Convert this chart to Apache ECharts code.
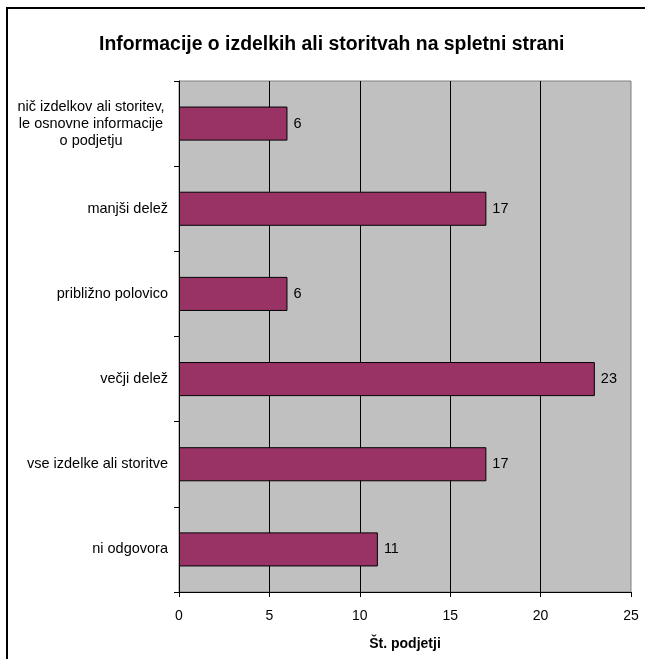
<!DOCTYPE html>
<html>
<head>
<meta charset="utf-8">
<script src="https://cdn.jsdelivr.net/npm/echarts@6/dist/echarts.min.js"></script>
<style>
  html, body { margin: 0; padding: 0; background: #fff; }
  #chart { width: 645px; height: 659px; }
</style>
</head>
<body>
<div id="chart"></div>
<script>
// Response categories (top to bottom)
const categories = [
  'nič izdelkov ali storitev,\nle osnovne informacije\no podjetju',
  'manjši delež',
  'približno polovico',
  'večji delež',
  'vse izdelke ali storitve',
  'ni odgovora'
];
// Number of companies per category
const counts = [6, 17, 6, 23, 17, 11];
// Value axis ticks
const xTicks = [0, 5, 10, 15, 20, 25];

const FONT = '"Liberation Sans", Arial, sans-serif';

const chart = echarts.init(document.getElementById('chart'), null, { renderer: 'canvas' });

chart.setOption({
  animation: false,
  backgroundColor: '#ffffff',
  title: {
    text: 'Informacije o izdelkih ali storitvah na spletni strani',
    left: 94,
    top: 30,
    textStyle: { fontFamily: FONT, fontSize: 19.4, fontWeight: 'bold', color: '#000' }
  },
  graphic: [{
    type: 'rect',
    shape: { x: 7, y: 8, width: 800, height: 800 },
    style: { fill: 'none', stroke: '#000', lineWidth: 2 },
    silent: true,
    z: 100
  }],
  grid: {
    left: 179,
    right: 14,
    top: 81,
    bottom: 67,
    show: true,
    backgroundColor: '#C0C0C0',
    borderColor: '#808080',
    borderWidth: 1
  },
  xAxis: {
    type: 'value',
    min: xTicks[0],
    max: xTicks[xTicks.length - 1],
    interval: 5,
    name: 'Št. podjetji',
    nameLocation: 'middle',
    nameGap: 45,
    nameTextStyle: { fontFamily: FONT, fontSize: 14, fontWeight: 'bold', color: '#000' },
    axisLine: { show: true, lineStyle: { color: '#000', width: 1 } },
    axisTick: { show: true, length: 5, lineStyle: { color: '#000' } },
    axisLabel: { fontFamily: FONT, fontSize: 14, color: '#000', margin: 17 },
    splitLine: { show: true, showMinLine: false, showMaxLine: false, lineStyle: { color: '#000', width: 1 } }
  },
  yAxis: {
    type: 'category',
    data: categories,
    inverse: true,
    axisLine: { show: true, lineStyle: { color: '#000', width: 1 } },
    axisTick: { show: true, length: 5, inside: false, lineStyle: { color: '#000' } },
    axisLabel: {
      fontFamily: FONT,
      fontSize: 14.5,
      color: '#000',
      margin: 11,
      align: 'right',
      lineHeight: 17,
      formatter: function (v) {
        if (v.indexOf('\n') >= 0) {
          return v.split('\n').map(function (s) { return '{m|' + s + '}'; }).join('\n');
        }
        return v;
      },
      rich: {
        m: { width: 154, align: 'center', fontFamily: FONT, fontSize: 14.5, lineHeight: 17, color: '#000' }
      }
    },
    splitLine: { show: false }
  },
  series: [{
    type: 'bar',
    data: counts,
    barWidth: '40%',
    itemStyle: { color: '#993366', borderColor: '#000', borderWidth: 1 },
    label: {
      show: true,
      position: 'right',
      distance: 6,
      fontFamily: FONT,
      fontSize: 14.5,
      color: '#000'
    }
  }]
});
</script>
</body>
</html>
